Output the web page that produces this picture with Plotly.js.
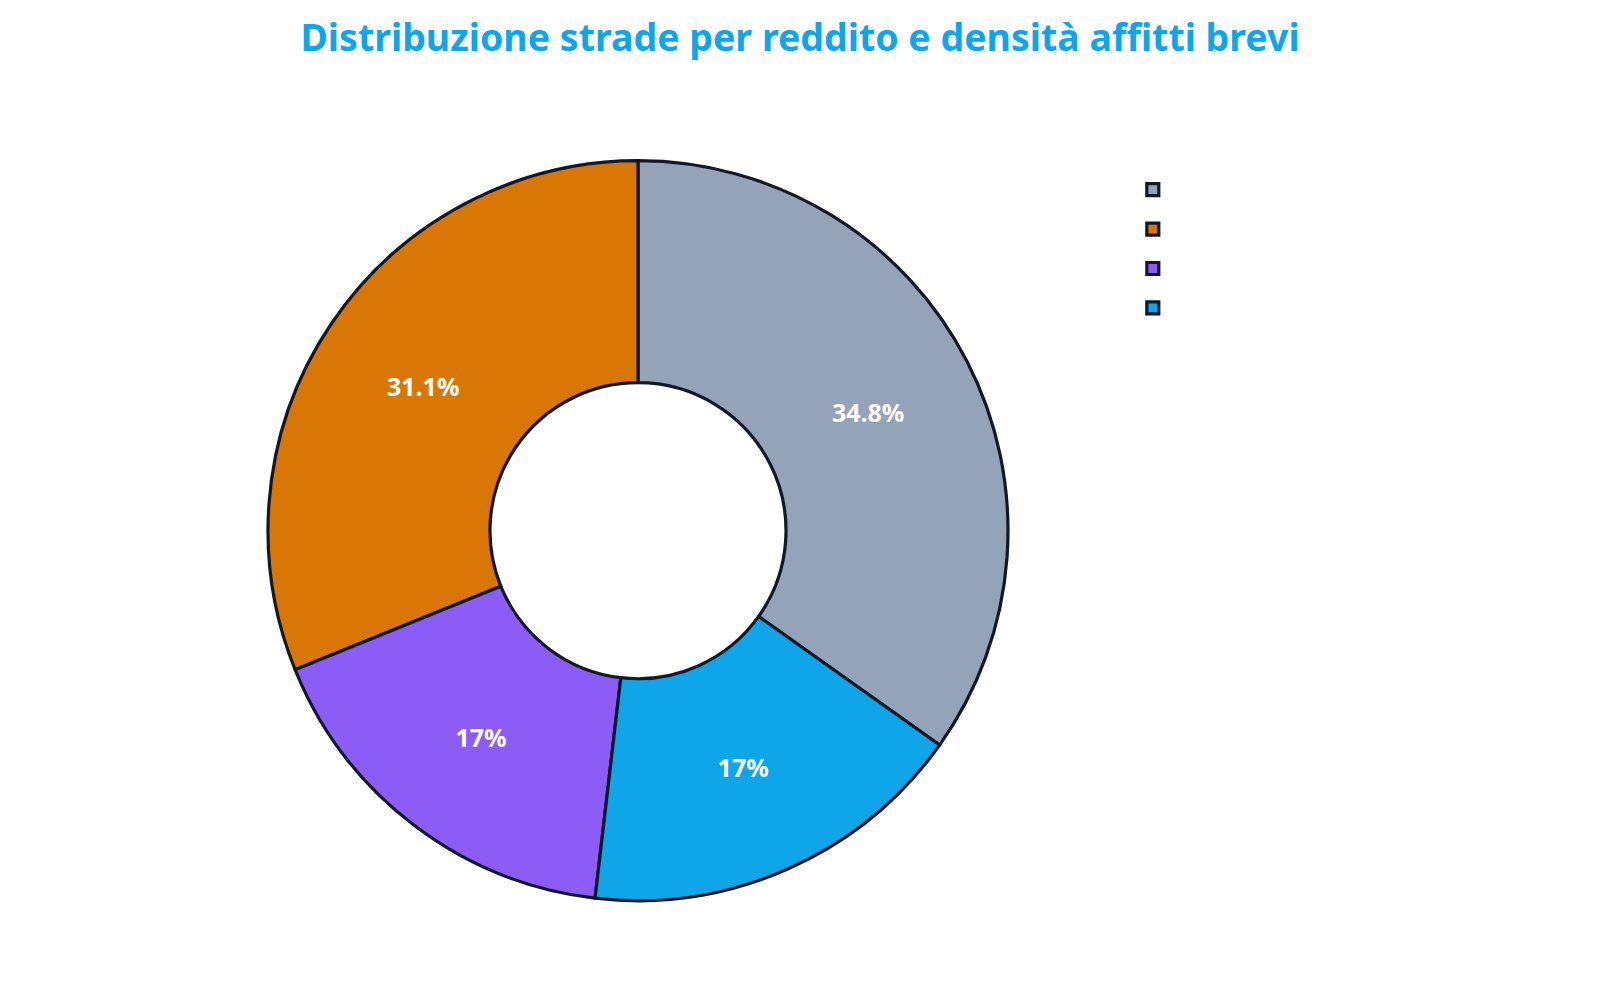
<!DOCTYPE html>
<html>
<head>
<meta charset="utf-8">
<script src="https://cdn.plot.ly/plotly-3.0.1.min.js"></script>
<style>
  body { margin: 0; background: #fff; }
  #chart { width: 1600px; height: 1000px; }
</style>
</head>
<body>
<div id="chart"></div>
<script>
// categorie (testo della legenda bianco, come nell'originale)
const categories = [
    'Reddito alto, bassa densità',
    'Reddito basso, bassa densità',
    'Reddito alto, alta densità',
    'Reddito basso, alta densità'
];
const shares = [34.8, 31.1, 17, 17];
const colors = ['#94a3b8', '#d97706', '#8b5cf6', '#0ea5e9'];

let trace = {
    type: 'pie',
    labels: categories,
    values: shares,
    hole: 0.4,
    textinfo: 'percent',
    textposition: 'inside',
    insidetextorientation: 'horizontal',
    textfont: {
        family: 'Noto Sans, sans-serif',
        size: 25,
        color: 'white',
        weight: 'bold'
    },
    marker: {
        colors: colors,
        line: { color: '#111827', width: 3.2 }
    },
    domain: {
        x: [0.1675, 0.63],
        y: [0.0993, 0.8393]
    }
};

let layout = {
    width: 1600,
    height: 1000,
    margin: { l: 0, r: 0, t: 0, b: 0 },
    paper_bgcolor: 'white',
    font: { family: 'Noto Sans, sans-serif', color: 'white' },
    title: {
        text: 'Distribuzione strade per reddito e densità affitti brevi',
        x: 0.5,
        xanchor: 'center',
        y: 0.962,
        yanchor: 'middle',
        font: { family: 'Noto Sans, sans-serif', size: 37.5, color: '#0ea5e9', weight: 'bold' }
    },
    showlegend: true,
    legend: {
        x: 0.708,
        xanchor: 'left',
        y: 0.835,
        yanchor: 'top',
        font: { size: 28, color: 'white' }
    }
};

Plotly.newPlot('chart', [trace], layout, { displayModeBar: false });
</script>
</body>
</html>
